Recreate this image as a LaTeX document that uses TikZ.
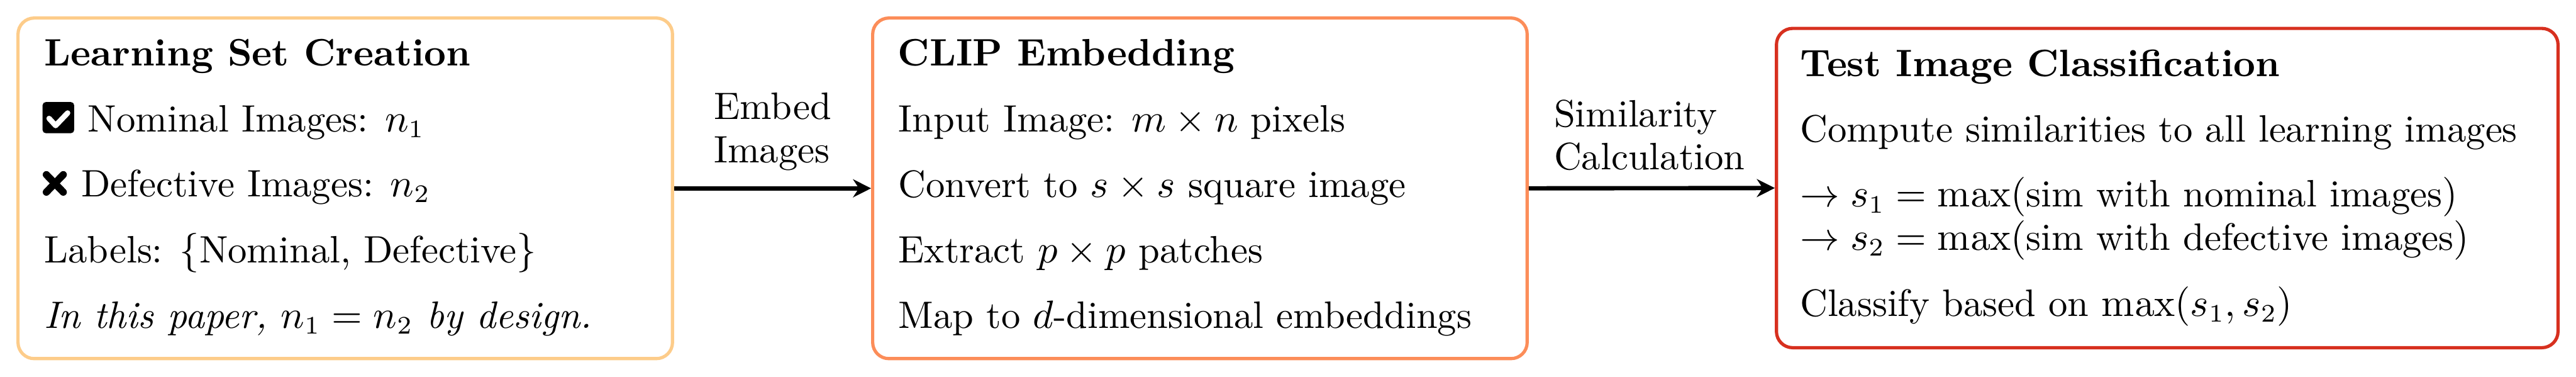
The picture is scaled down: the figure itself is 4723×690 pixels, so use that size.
\documentclass[tikz,border=0pt]{standalone}
\usepackage{amsmath}
\usetikzlibrary{arrows.meta}
\definecolor{cone}{HTML}{FDCC8A}
\definecolor{ctwo}{HTML}{FC8D59}
\definecolor{cthree}{HTML}{D7301F}
\begin{document}
\fontsize{10.6}{12}\selectfont
\begin{tikzpicture}[x=0.1515pt, y=-0.1515pt,
  box/.style={draw, line width=0.9pt, rounded corners=4.5pt, inner sep=0pt},
  txt/.style={anchor=base west, inner sep=0pt},
  lab/.style={anchor=south west, inner sep=0pt, align=left},
  arr/.style={-{Stealth[length=5pt, width=5pt]}, line width=1.2pt}]
\useasboundingbox (0,0) rectangle (4723,690);
% boxes
\node[box, draw=cone, minimum width=181.8pt, minimum height=94.54pt] (b1) at (633,345) {};
\node[box, draw=ctwo, minimum width=181.8pt, minimum height=94.54pt] (b2) at (2200,345) {};
\node[box, draw=cthree, minimum width=217.1pt, minimum height=88.63pt] (b3) at (3973.5,344.5) {};
% box 1 text
\node[txt] (t11) at (80,121) {\textbf{Learning Set Creation}};
\fill[rounded corners=0.9pt] (78,187) rectangle (136,244);
\draw[white, line width=1.5pt, line cap=round, line join=round] (90,217) -- (102,230) -- (124,207);
\node[txt] (t12) at (160,241) {Nominal Images: $n_1$};
\draw[line width=2pt, line cap=round] (85,320) -- (116,352) (116,320) -- (85,352);
\node[txt] (t13) at (148,360) {Defective Images: $n_2$};
\node[txt] (t14) at (80,481) {Labels: $\{$Nominal, Defective$\}$};
\node[txt] (t15) at (80,601) {\textit{In this paper, $n_1 = n_2$ by design.}};
% box 2 text
\node[txt] (t21) at (1645,121) {\textbf{CLIP Embedding}};
\node[txt] (t22) at (1646,241) {Input Image: $m \times n$ pixels};
\node[txt] (t23) at (1646,361) {Convert to $s \times s$ square image};
\node[txt] (t24) at (1646,481) {Extract $p \times p$ patches};
\node[txt] (t25) at (1646,601) {Map to $d$-dimensional embeddings};
% box 3 text
\node[txt] (t31) at (3299,140) {\textbf{Test Image Classification}};
\node[txt] (t32) at (3299,260) {Compute similarities to all learning images};
\node[txt] (t33) at (3299,379) {$\rightarrow s_1 = \max(\text{sim with nominal images})$};
\node[txt] (t34) at (3299,458) {$\rightarrow s_2 = \max(\text{sim with defective images})$};
\node[txt] (t35) at (3299,579) {Classify based on $\max(s_1, s_2)$};
% arrows
\draw[arr] (b1.east) -- (b2.west);
\draw[arr] (b2.east) -- (b3.west);
\node[lab] (l1) at (1308,314) {Embed\\Images};
\node[lab] (l2) at (2848,314) {Similarity\\Calculation};
\end{tikzpicture}
\end{document}
